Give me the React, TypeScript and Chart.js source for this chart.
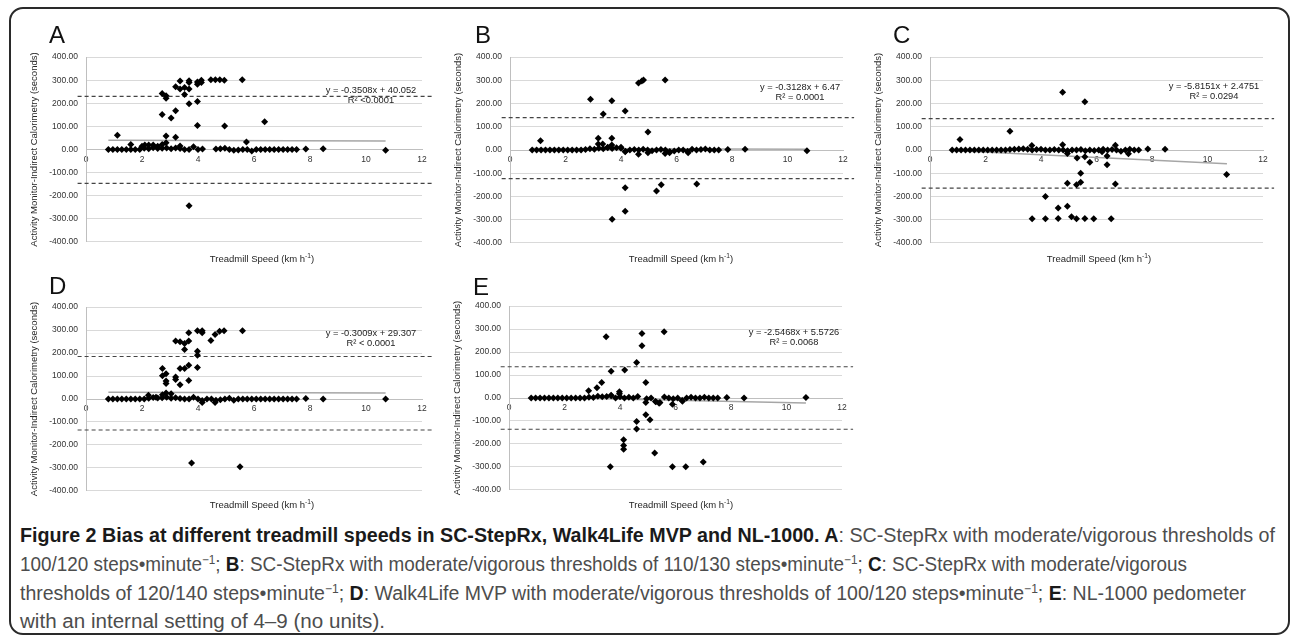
import React, { useEffect, useLayoutEffect, useRef } from "react";
import { Chart, registerables } from "chart.js";
Chart.register(...registerables);

const FONT = "'Liberation Sans', Arial, Helvetica, sans-serif";

// ---------- data ----------
const xTickValues = [0, 2, 4, 6, 8, 10, 12];
const yMin = -400;
const yMax = 400;
const yTitle = "Activity Monitor-Indirect Calorimetry (seconds)";

const speeds = [0.8, 0.96, 1.12, 1.28, 1.44, 1.6, 1.76, 1.92, 2.08, 2.24, 2.4, 2.56, 2.72, 2.88, 3.04, 3.2, 3.36, 3.52, 3.68, 3.84, 4.0, 4.16, 4.32, 4.48, 4.64, 4.8, 4.96, 5.12, 5.28, 5.44, 5.6, 5.76, 5.92, 6.08, 6.24, 6.4, 6.56, 6.72, 6.88, 7.04, 7.2, 7.36, 7.52, 7.85, 8.47, 10.7];

const rowA = [0, 0, 0, 0, 0, 0, 0, 0, 5, 3, 8, 4, 5, 6, 3, 6, 4, 0, 0, null, 0, 2, null, null, 2, 3, 5, 0, -3, -2, 0, 0, -6, 0, 0, 0, 0, 0, 0, 0, 0, 0, 0, 2, 3, -3];
const rowB = [0, 0, 0, 0, 0, 0, 0, 0, 0, 0, 0, 0, 2, 5, 3, 8, 5, 12, 6, 10, 8, -5, 0, 2, 0, 3, 0, -3, 0, 2, 0, -6, -4, 0, 0, -5, 3, 0, 2, 4, 0, 0, 0, 2, 3, -3];
const rowC = [0, 0, 0, 0, 0, 0, 0, 0, 0, 0, 0, 0, 0, 2, 3, 4, 5, 3, 0, 2, 3, 0, 0, 2, 0, 0, -3, 0, 0, 2, -3, 0, -2, 0, 3, 0, 2, 0, -5, 0, 3, 0, 0, 4, 3, null];
const rowD = [0, 0, 0, 0, 0, 0, 0, 0, 0, 3, 6, 4, 5, 8, 3, 5, 2, 0, 0, 8, 0, null, 0, 0, -5, -3, 0, 3, -5, 0, 0, 0, 0, 0, 0, 0, 0, 0, 0, 0, 0, 0, 0, 2, 0, 0];
const rowE = [0, 0, 0, 0, 0, 0, 0, 0, 0, 0, 0, 0, 0, 3, 2, 8, 5, 6, 10, 0, 5, 0, 3, 0, 6, null, -3, 0, -15, -20, 4, 0, -3, 0, -10, 0, 3, 0, 0, 3, 0, 0, 0, 2, 0, 2];

const extraAx = [1.12, 1.6, 2.0, 2.1, 2.24, 2.4, 2.56, 2.72, 2.72, 2.86, 2.86, 2.72, 2.86, 2.86, 3.04, 3.2, 3.2, 3.2, 3.36, 3.36, 3.36, 3.52, 3.52, 3.68, 3.68, 3.68, 3.68, 3.98, 3.98, 3.98, 3.98, 4.12, 4.12, 4.46, 4.62, 4.78, 4.94, 5.58, 4.95, 6.38, 5.73, 3.84, 3.68];
const extraAy = [62, 22, 14, 20, 20, 20, 14, 22, 242, 233, 222, 151, 58, 29, 136, 168, 53, 272, 262, 297, 15, 268, 238, 262, 298, 290, 198, 208, 282, 292, 104, 300, 290, 302, 302, 302, 300, 302, 102, 120, 33, 12, -244];

const extraBx = [1.1, 2.9, 3.18, 3.18, 3.34, 3.36, 3.52, 3.67, 3.67, 3.67, 4.0, 4.15, 4.15, 4.15, 4.15, 3.68, 4.63, 4.75, 4.81, 5.59, 4.97, 4.63, 4.97, 5.59, 5.75, 6.42, 5.28, 5.45, 6.73];
const extraBy = [40, 219, 51, 26, 26, 155, 10, 51, 22, 212, 12, 168, -8, -163, -264, -298, 289, 297, 301, 301, 78, -18, -12, -15, -12, -12, -177, -150, -146];

const extraCx = [1.08, 2.88, 3.67, 4.78, 4.78, 5.58, 4.95, 5.3, 5.58, 5.76, 6.38, 6.38, 6.68, 7.15, 3.68, 4.16, 4.16, 4.62, 4.62, 4.95, 4.95, 5.1, 5.28, 5.28, 5.43, 5.43, 5.58, 5.9, 6.53, 6.68, 10.69, 4.95, 6.2];
const extraCy = [45, 81, 19, 249, 23, 208, -15, -34, -29, -53, -26, -63, 20, -16, -296, -296, -200, -250, -295, -242, -143, -287, -296, -150, -139, -100, -295, -296, -296, -146, -105, -5, -8];

const extraDx = [2.23, 2.5, 2.73, 2.86, 3.04, 2.73, 2.73, 2.86, 2.86, 2.86, 3.2, 3.2, 3.2, 3.36, 3.36, 3.36, 3.52, 3.52, 3.52, 3.67, 3.67, 3.67, 3.67, 3.98, 3.98, 3.98, 3.98, 4.15, 4.15, 4.46, 4.61, 4.77, 4.93, 5.59, 4.15, 4.15, 4.61, 3.77, 5.5];
const extraDy = [16, 8, 19, 26, 23, 133, 101, 110, 78, 68, 252, 96, 85, 249, 133, 62, 242, 215, 133, 288, 252, 147, 81, 297, 208, 190, 137, 297, 288, 255, 281, 295, 297, 297, -7, -15, -15, -279, -295];

const extraEx = [3.5, 5.59, 4.79, 4.79, 4.6, 3.68, 4.17, 4.93, 3.34, 3.17, 2.87, 3.98, 3.98, 3.68, 4.93, 5.29, 5.41, 5.89, 6.25, 4.93, 5.08, 4.6, 4.6, 4.13, 4.13, 4.13, 5.25, 3.65, 5.89, 6.37, 7.0];
const extraEy = [267, 288, 281, 227, 155, 116, 122, 68, 68, 45, 32, 27, 18, 12, -20, -16, -23, -27, -14, -73, -95, -102, -135, -182, -207, -223, -239, -299, -299, -299, -279];

const trendX = [0.8, 10.7];
const trendA = [39.8, 36.3];
const trendB = [6.2, 3.1];
const trendC = [-2.2, -59.7];
const trendD = [29.1, 26.1];
const trendE = [3.5, -21.7];

const limitX = [-0.3, 12.4];
const limitsA = [230, -147];
const limitsB = [139, -123];
const limitsC = [135, -164];
const limitsD = [185, -135];
const limitsE = [136, -136];

const eqA = ["y = -0.3508x + 40.052", "R² <0.0001"];
const eqB = ["y = -0.3128x + 6.47", "R² = 0.0001"];
const eqC = ["y = -5.8151x + 2.4751", "R² = 0.0294"];
const eqD = ["y = -0.3009x + 29.307", "R² < 0.0001"];
const eqE = ["y = -2.5468x + 5.5726", "R² = 0.0068"];

// ---------- components ----------
type Pt = { x: number; y: number };
function pts(xs: number[], ys: (number | null)[]): Pt[] {
  const out: Pt[] = [];
  xs.forEach((x, i) => {
    const y = ys[i];
    if (y !== null && y !== undefined) out.push({ x, y });
  });
  return out;
}

type PanelProps = {
  left: number; top: number; width: number; height: number;
  rowY: (number | null)[]; exX: number[]; exY: number[];
  trend: number[]; limits: number[];
};

function Panel(p: PanelProps) {
  const ref = useRef<HTMLCanvasElement>(null);
  useEffect(() => {
    const diamond = {
      pointStyle: "rectRot" as const,
      pointRadius: 3.5,
      pointBackgroundColor: "#000",
      pointBorderColor: "#000",
      pointBorderWidth: 0,
      showLine: false,
    };
    const chart = new Chart(ref.current!, {
      type: "scatter",
      data: {
        datasets: [
          { data: pts(speeds, p.rowY), ...diamond } as any,
          { data: pts(p.exX, p.exY), ...diamond } as any,
          {
            type: "line", data: pts(trendX, p.trend), borderColor: "#a6a6a6",
            borderWidth: 1.5, pointRadius: 0, showLine: true, fill: false,
          } as any,
          {
            type: "line", data: pts(limitX, [p.limits[0], p.limits[0]]), borderColor: "#444",
            borderWidth: 1.2, borderDash: [4, 3], pointRadius: 0, showLine: true, clip: false, fill: false,
          } as any,
          {
            type: "line", data: pts(limitX, [p.limits[1], p.limits[1]]), borderColor: "#444",
            borderWidth: 1.2, borderDash: [4, 3], pointRadius: 0, showLine: true, clip: false, fill: false,
          } as any,
        ],
      },
      options: {
        animation: false,
        responsive: false,
        layout: { padding: { top: 8, right: 18, bottom: 8, left: 0 } },
        plugins: { legend: { display: false }, tooltip: { enabled: false }, title: { display: false } },
        scales: {
          x: {
            type: "linear",
            position: { y: 0 } as any,
            min: 0, max: 12,
            afterBuildTicks: (s: any) => { s.ticks = xTickValues.map((v) => ({ value: v })); },
            ticks: {
              font: { size: 8.5, family: FONT }, color: "#333", padding: 5,
              maxRotation: 0, minRotation: 0, autoSkip: false,
              callback: (v: any) => String(v),
            },
            grid: { display: false, drawTicks: false },
            border: { display: true, color: "#bfbfbf", width: 1 },
          },
          y: {
            type: "linear",
            min: yMin, max: yMax,
            ticks: {
              stepSize: 100, font: { size: 8.5, family: FONT }, color: "#333", padding: 8,
              callback: (v: any) => Number(v).toFixed(2),
            },
            grid: { color: "#d9d9d9", drawTicks: false, lineWidth: 1 },
            border: { display: true, color: "#bfbfbf", width: 1 },
            title: {
              display: true, text: yTitle, color: "#262626",
              font: { size: 9.5, family: FONT }, padding: { top: 9, bottom: 0 },
            },
            afterFit: (s: any) => { s.width = 66; },
          },
        },
      } as any,
    });
    return () => chart.destroy();
  }, []);
  return (
    <canvas
      ref={ref}
      width={p.width}
      height={p.height}
      style={{ position: "absolute", left: p.left, top: p.top, width: p.width, height: p.height }}
    />
  );
}

function Letter({ x, y, t }: { x: number; y: number; t: string }) {
  return (
    <div style={{ position: "absolute", left: x, top: y, fontFamily: FONT, fontSize: 24, lineHeight: "24px", color: "#111" }}>{t}</div>
  );
}

function Equation({ cx, y, lines }: { cx: number; y: number; lines: string[] }) {
  return (
    <div style={{
      position: "absolute", left: cx, top: y, transform: "translateX(-50%)", textAlign: "center",
      fontFamily: FONT, fontSize: 9.3, lineHeight: "10px", color: "#222", whiteSpace: "nowrap",
    }}>
      {lines.map((l, i) => <div key={i}>{l}</div>)}
    </div>
  );
}

function XTitle({ cx, y }: { cx: number; y: number }) {
  return (
    <div style={{
      position: "absolute", left: cx, top: y, transform: "translateX(-50%)", whiteSpace: "nowrap",
      fontFamily: FONT, fontSize: 9.5, lineHeight: "12px", color: "#262626",
    }}>
      Treadmill Speed (km h<sup style={{ fontSize: "0.7em", lineHeight: 0 }}>-1</sup>)
    </div>
  );
}

function FitLine({ top, target, children }: { top: number; target: number; children: React.ReactNode }) {
  const outer = useRef<HTMLDivElement>(null);
  const inner = useRef<HTMLSpanElement>(null);
  useLayoutEffect(() => {
    const w = inner.current!.getBoundingClientRect().width;
    if (w > 0) outer.current!.style.transform = `scaleX(${target / w})`;
  }, []);
  return (
    <div ref={outer} style={{
      position: "absolute", left: 20, top, whiteSpace: "nowrap", transformOrigin: "0 0",
      fontFamily: FONT, fontSize: 19.5, lineHeight: "29px", color: "#4d4d4d",
    }}>
      <span ref={inner}>{children}</span>
    </div>
  );
}

const B = ({ children }: { children: React.ReactNode }) => <b style={{ color: "#1a1a1a" }}>{children}</b>;
const Sup = () => <sup style={{ fontSize: "0.62em", lineHeight: 0 }}>−1</sup>;

export default function App() {
  return (
    <div style={{ position: "absolute", left: 0, top: 0, width: 1292, height: 636, background: "#fff", overflow: "hidden" }}>
      <div style={{
        position: "absolute", left: 9, top: 7, width: 1281, height: 628, boxSizing: "border-box",
        border: "2px solid #2a2a2a", borderRadius: 14,
      }} />
      <Panel left={20} top={44} width={420} height={211} rowY={rowA} exX={extraAx} exY={extraAy} trend={trendA} limits={limitsA} />
      <Panel left={444} top={44} width={417} height={212} rowY={rowB} exX={extraBx} exY={extraBy} trend={trendB} limits={limitsB} />
      <Panel left={864} top={44} width={417} height={212} rowY={rowC} exX={extraCx} exY={extraCy} trend={trendC} limits={limitsC} />
      <Panel left={20} top={294} width={420} height={210} rowY={rowD} exX={extraDx} exY={extraDy} trend={trendD} limits={limitsD} />
      <Panel left={443} top={293} width={417} height={210} rowY={rowE} exX={extraEx} exY={extraEy} trend={trendE} limits={limitsE} />

      <Letter x={49} y={23} t="A" />
      <Letter x={475} y={23} t="B" />
      <Letter x={893} y={23} t="C" />
      <Letter x={49} y={274} t="D" />
      <Letter x={473} y={275} t="E" />

      <Equation cx={371} y={85} lines={eqA} />
      <Equation cx={800} y={82} lines={eqB} />
      <Equation cx={1214} y={81} lines={eqC} />
      <Equation cx={371} y={328} lines={eqD} />
      <Equation cx={794} y={327} lines={eqE} />

      <XTitle cx={262} y={253} />
      <XTitle cx={681} y={253} />
      <XTitle cx={1099} y={253} />
      <XTitle cx={262} y={499} />
      <XTitle cx={681} y={499} />

      <FitLine top={521} target={1255}>
        <B>Figure 2 Bias at different treadmill speeds in SC-StepRx, Walk4Life MVP and NL-1000. A</B>: SC-StepRx with moderate/vigorous thresholds of
      </FitLine>
      <FitLine top={550} target={1167}>
        100/120 steps•minute<Sup />; <B>B</B>: SC-StepRx with moderate/vigorous thresholds of 110/130 steps•minute<Sup />; <B>C</B>: SC-StepRx with moderate/vigorous
      </FitLine>
      <FitLine top={579} target={1226}>
        thresholds of 120/140 steps•minute<Sup />; <B>D</B>: Walk4Life MVP with moderate/vigorous thresholds of 100/120 steps•minute<Sup />; <B>E</B>: NL-1000 pedometer
      </FitLine>
      <FitLine top={607} target={365}>
        with an internal setting of 4–9 (no units).
      </FitLine>
    </div>
  );
}
